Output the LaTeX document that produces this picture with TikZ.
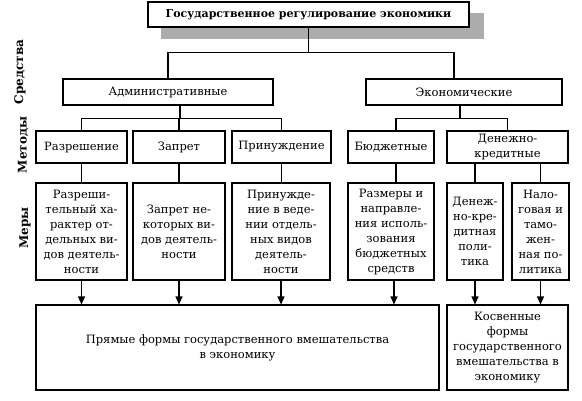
\documentclass[tikz,border=0pt]{standalone}
\usepackage{fontspec}
\setmainfont{DejaVu Serif}
\usetikzlibrary{arrows.meta, positioning}
\tikzstyle{std} = [rectangle, draw=black, line width=1.1pt, fill=white, align=center, inner sep=1pt, font=\fontsize{11.5}{15}\selectfont]
\tikzstyle{arrow} = [line width=1.1pt, -{Triangle[length=8pt,width=7pt]}]
\tikzstyle{line} = [line width=1.1pt]
\tikzstyle{side} = [rotate=90, font=\fontsize{12}{14}\selectfont\bfseries]

\begin{document}
\begin{tikzpicture}[x=1pt, y=-1pt]
      \useasboundingbox (0,0) rectangle (582,400);
      % shadow of the title
      \fill[gray!65] (161,13) rectangle (484,39);
      \node (gos) [std, minimum width=321pt, minimum height=25pt, font=\fontsize{11}{14}\selectfont\bfseries] at (308.5,14.5) {Государственное регулирование экономики};

      % sredstva
      \node (adm) [std, minimum width=210pt, minimum height=26pt] at (168,92) {Административные};
      \node (eco) [std, minimum width=196pt, minimum height=26pt] at (464,92) {Экономические};

      % metody
      \node (razr) [std, minimum width=91pt, minimum height=32pt] at (81.5,147) {Разрешение};
      \node (zapr) [std, minimum width=92pt, minimum height=32pt] at (179,147) {Запрет};
      \node (prin) [std, minimum width=99pt, minimum height=32pt] at (281.5,147) {Принуждение};
      \node (budg) [std, minimum width=86pt, minimum height=32pt] at (391,147) {Бюджетные};
      \node (dk) [std, minimum width=121pt, minimum height=32pt] at (507.5,147) {Денежно-\\кредитные};

      % mery
      \node (mrazr) [std, minimum width=91pt, minimum height=97pt] at (81.5,231.5) {Разреши-\\тельный ха-\\рактер от-\\дельных ви-\\дов деятель-\\ности};
      \node (mzapr) [std, minimum width=92pt, minimum height=97pt] at (179,231.5) {Запрет не-\\которых ви-\\дов деятель-\\ности};
      \node (mprin) [std, minimum width=98pt, minimum height=97pt] at (281,231.5) {Принужде-\\ние в веде-\\нии отдель-\\ных видов\\деятель-\\ности};
      \node (mbudg) [std, minimum width=86pt, minimum height=97pt] at (391,231.5) {Размеры и\\направле-\\ния исполь-\\зования\\бюджетных\\средств};
      \node (mden) [std, minimum width=56pt, minimum height=97pt] at (475,231.5) {Денеж-\\но-кре-\\дитная\\поли-\\тика};
      \node (mnal) [std, minimum width=57pt, minimum height=97pt] at (540.5,231.5) {Нало-\\говая и\\тамо-\\жен-\\ная по-\\литика};

      % formy
      \node (pr) [std, minimum width=403pt, minimum height=85pt] at (237.5,347.5) {Прямые формы государственного вмешательства\\в экономику};
      \node (kos) [std, minimum width=121pt, minimum height=85pt] at (507.5,347.5) {Косвенные\\формы\\государственного\\вмешательства в\\экономику};

      % side labels
      \node (lsr) [side] at (20,72) {Средства};
      \node (lmet) [side] at (23,145) {Методы};
      \node (lmer) [side] at (25,228) {Меры};

      % tree
      \draw [line] (gos.south) -- ++(0,25) coordinate (j1);
      \draw [line] (j1) -| (adm.north);
      \draw [line] (j1) -| ([xshift=-10pt]eco.north);
      \draw [line] ([xshift=12pt]adm.south) -- ++(0,13) coordinate (j2);
      \draw [line] (j2) -| (razr.north);
      \draw [line] (j2) -| (zapr.north);
      \draw [line] (j2) -| (prin.north);
      \draw [line] ([xshift=-4pt]eco.south) -- ++(0,13) coordinate (j3);
      \draw [line] (j3) -| ([xshift=5pt]budg.north);
      \draw [line] (j3) -| (dk.north);

      \draw [line] (razr) -- (mrazr);
      \draw [line] (zapr) -- (mzapr);
      \draw [line] (prin.south) -- (prin.south |- mprin.north);
      \draw [line] ([xshift=5pt]budg.south) -- ([xshift=5pt]mbudg.north);
      \draw [line] (mden.north) -- (mden.north |- dk.south);
      \draw [line] (mnal.north) -- (mnal.north |- dk.south);

      \draw [arrow] (mrazr.south) -- (mrazr.south |- pr.north);
      \draw [arrow] (mzapr.south) -- (mzapr.south |- pr.north);
      \draw [arrow] (mprin.south) -- (mprin.south |- pr.north);
      \draw [arrow] ([xshift=3pt]mbudg.south) -- ([xshift=3pt]mbudg.south |- pr.north);
      \draw [arrow] (mden.south) -- (mden.south |- kos.north);
      \draw [arrow] (mnal.south) -- (mnal.south |- kos.north);
\end{tikzpicture}
\end{document}
